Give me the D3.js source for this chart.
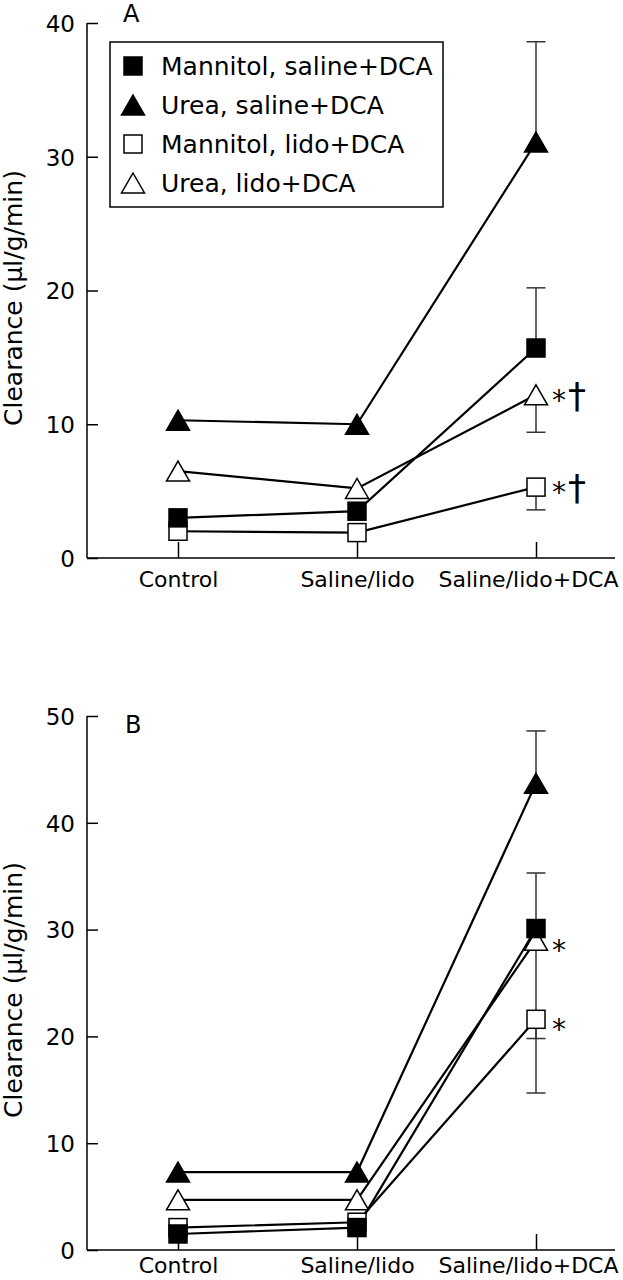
<!DOCTYPE html>
<html><head><meta charset="utf-8">
<script src="https://cdn.jsdelivr.net/npm/d3@7/dist/d3.min.js"></script>
<style>body{margin:0;background:#fff} svg{display:block} text{font-family:"DejaVu Sans",sans-serif;fill:#000}</style>
</head><body><svg id="c" width="623" height="1280"></svg>
<script>
// ---------- data ----------
const categories = ["Control", "Saline/lido", "Saline/lido+DCA"];
const seriesNames = ["Mannitol, saline+DCA", "Urea, saline+DCA", "Mannitol, lido+DCA", "Urea, lido+DCA"];

// Panel A values (µl/g/min)
const aMannitolSaline = [3.0, 3.5, 15.7];
const aUreaSaline     = [10.3, 10.0, 31.1];
const aMannitolLido   = [2.0, 1.9, 5.3];
const aUreaLido       = [6.5, 5.2, 12.2];
// error bar ends at Saline/lido+DCA (same series order)
const aErrEnd = [20.2, 38.6, 3.6, 9.4];
const aNotes  = [null, null, "*†", "*†"];
const aTicks  = [0, 10, 20, 30, 40];

// Panel B values (µl/g/min)
const bMannitolSaline = [1.5, 2.1, 30.1];
const bUreaSaline     = [7.3, 7.3, 43.7];
const bMannitolLido   = [2.1, 2.6, 21.6];
const bUreaLido       = [4.7, 4.7, 29.0];
const bErrEnd = [35.3, 48.6, 14.7, 19.8];
const bNotes  = [null, null, "*", "*"];
const bTicks  = [0, 10, 20, 30, 40, 50];

// ---------- layout / style ----------
const svg = d3.select("#c");
const x = d3.scalePoint().domain(categories).range([178, 536]);
const axisLeftX = 87, axisRightX = 615;
const symbolStyle = [
  {shape: "square",   fill: "#000"},
  {shape: "triangle", fill: "#000"},
  {shape: "square",   fill: "#fff"},
  {shape: "triangle", fill: "#fff"}
];
const drawOrder = [2, 3, 1, 0];

function symbol(g, idx, cx, cy) {
  const s = symbolStyle[idx];
  if (s.shape === "square") {
    g.append("rect").attr("x", cx - 9).attr("y", cy - 9).attr("width", 18).attr("height", 18)
      .attr("fill", s.fill).attr("stroke", "#000").attr("stroke-width", 1.5);
  } else {
    const w = 23, h = 20;
    g.append("path").attr("d", `M${cx},${cy - h/2}L${cx + w/2},${cy + h/2}L${cx - w/2},${cy + h/2}Z`)
      .attr("fill", s.fill).attr("stroke", "#000").attr("stroke-width", 1.5).attr("stroke-linejoin", "miter");
  }
}

const panels = [
  {series: [aMannitolSaline, aUreaSaline, aMannitolLido, aUreaLido], err: aErrEnd, notes: aNotes,
   ticks: aTicks, yRange: [558, 23], letter: "A", letterPos: [123, 22], labelY: 298, noteDy: 15, xPad: 13, legend: true},
  {series: [bMannitolSaline, bUreaSaline, bMannitolLido, bUreaLido], err: bErrEnd, notes: bNotes,
   ticks: bTicks, yRange: [1250, 716], letter: "B", letterPos: [125, 733], labelY: 990, noteDy: 20, xPad: 7, legend: false}
];

panels.forEach(p => {
  const y = d3.scaleLinear().domain([0, d3.max(p.ticks)]).range(p.yRange);
  const g = svg.append("g");

  // axes
  const ya = g.append("g").attr("transform", `translate(${axisLeftX},0)`)
    .call(d3.axisLeft(y).tickValues(p.ticks).tickSize(-11).tickPadding(12));
  ya.select(".domain").remove();
  ya.selectAll("line").attr("stroke", "#000").attr("stroke-width", 1.5);
  ya.selectAll("text").attr("font-size", 23).attr("font-family", "DejaVu Sans").attr("dy", "0.36em");

  const xa = g.append("g").attr("transform", `translate(0,${p.yRange[0]})`)
    .call(d3.axisBottom(x).tickSize(-16).tickPadding(p.xPad));
  xa.select(".domain").remove();
  xa.selectAll("line").attr("stroke", "#000").attr("stroke-width", 1.5);
  xa.selectAll("text").attr("font-size", 22).attr("font-family", "DejaVu Sans")
    .attr("dx", (d, i) => i === categories.length - 1 ? -8 : 0);

  g.append("line").attr("x1", axisLeftX).attr("x2", axisLeftX).attr("y1", p.yRange[1]).attr("y2", p.yRange[0])
    .attr("stroke", "#000").attr("stroke-width", 1.5);
  g.append("line").attr("x1", axisLeftX).attr("x2", axisRightX).attr("y1", p.yRange[0]).attr("y2", p.yRange[0])
    .attr("stroke", "#000").attr("stroke-width", 1.5);

  // axis title & panel letter
  g.append("text").attr("transform", `translate(22,${p.labelY}) rotate(-90)`).attr("text-anchor", "middle")
    .attr("font-size", 25).text("Clearance (μl/g/min)");
  g.append("text").attr("x", p.letterPos[0]).attr("y", p.letterPos[1]).attr("font-size", 24).text(p.letter);

  // error bars (at last category)
  const last = categories[categories.length - 1];
  p.err.forEach((e, i) => {
    const v = p.series[i][categories.length - 1];
    const cx = x(last);
    g.append("line").attr("x1", cx).attr("x2", cx).attr("y1", y(v)).attr("y2", y(e))
      .attr("stroke", "#333").attr("stroke-width", 1.5);
    g.append("line").attr("x1", cx - 9.5).attr("x2", cx + 9.5).attr("y1", y(e)).attr("y2", y(e))
      .attr("stroke", "#333").attr("stroke-width", 1.5);
  });

  // lines
  const line = d3.line().x((d, j) => x(categories[j])).y(d => y(d));
  drawOrder.forEach(i => {
    g.append("path").attr("d", line(p.series[i])).attr("fill", "none")
      .attr("stroke", "#000").attr("stroke-width", 2.2);
  });
  // markers
  drawOrder.forEach(i => {
    p.series[i].forEach((v, j) => symbol(g, i, x(categories[j]), y(v)));
  });

  // significance notes
  p.notes.forEach((n, i) => {
    if (!n) return;
    const v = p.series[i][categories.length - 1];
    const t = g.append("text").attr("x", x(last) + 16).attr("y", y(v) + p.noteDy).attr("font-size", 28);
    t.append("tspan").text(n[0]);
    if (n.length > 1) t.append("tspan").attr("dx", 2).attr("dy", -2).attr("font-size", 36).text(n.slice(1));
  });

  // legend
  if (p.legend) {
    const lg = g.append("g");
    lg.append("rect").attr("x", 110).attr("y", 42).attr("width", 333).attr("height", 165)
      .attr("fill", "#fff").attr("stroke", "#000").attr("stroke-width", 1.5);
    seriesNames.forEach((name, i) => {
      const cy = 66 + i * 39;
      symbol(lg, i, 133, cy);
      lg.append("text").attr("x", 161).attr("y", cy + 9).attr("font-size", 25).text(name);
    });
  }
});
</script></body></html>
